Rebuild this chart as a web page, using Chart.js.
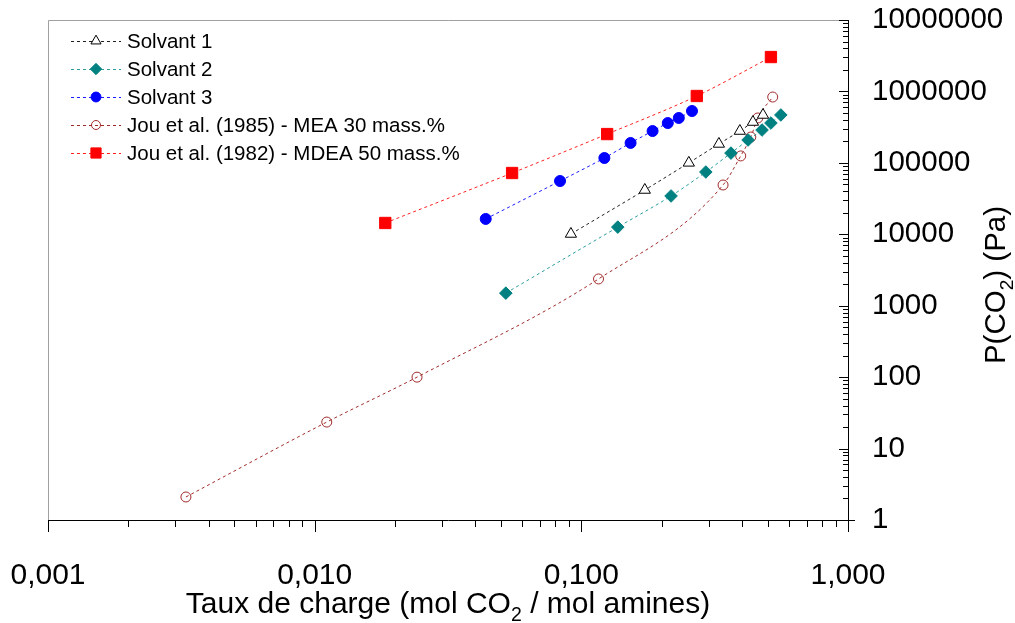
<!DOCTYPE html>
<html>
<head>
<meta charset="utf-8">
<script src="https://cdn.jsdelivr.net/npm/chart.js@4.4.0/dist/chart.umd.min.js"></script>
<style>
  html, body { margin: 0; padding: 0; background: #fff; }
</style>
</head>
<body>
<canvas id="equilibreChart" width="1015" height="623"></canvas>
<script>
const nomsSeries = [
  "Solvant 1",
  "Solvant 2",
  "Solvant 3",
  "Jou et al. (1985) - MEA 30 mass.%",
  "Jou et al. (1982) - MDEA 50 mass.%"
];

const solvant1X = [0.0914, 0.173, 0.253, 0.328, 0.393, 0.440, 0.480];
const solvant1Y = [10100, 41700, 100000, 184000, 279000, 373000, 468000];

const solvant2X = [0.0521, 0.137, 0.217, 0.293, 0.364, 0.422, 0.476, 0.514, 0.560];
const solvant2Y = [1500, 12600, 34400, 74500, 137000, 209000, 288000, 361000, 468000];

const solvant3X = [0.0438, 0.0832, 0.122, 0.153, 0.185, 0.211, 0.232, 0.260];
const solvant3Y = [16400, 55700, 117000, 190000, 279000, 361000, 425000, 532000];

const meaX = [0.00329, 0.0111, 0.0242, 0.116, 0.340, 0.396, 0.432, 0.459, 0.522];
const meaY = [2.1, 23.5, 100, 2370, 49000, 125000, 230000, 425000, 835000];

const mdeaX = [0.0184, 0.0550, 0.125, 0.271, 0.514];
const mdeaY = [14400, 72100, 253000, 863000, 3030000];

const xDecades = [0.001, 0.01, 0.1, 1];
const yDecades = [1, 10, 100, 1000, 10000, 100000, 1000000, 10000000];

const FONT = "'Liberation Sans', Arial, sans-serif";

function toPoints(xs, ys) {
  return xs.map((x, i) => ({ x, y: ys[i] }));
}

function isDecade(v) {
  const l = Math.log10(v);
  return Math.abs(l - Math.round(l)) < 1e-9;
}

// 1..9 x 10^n pour chaque décade
function logTicks(decades) {
  const ticks = [];
  for (let i = 0; i < decades.length; i++) {
    const d = decades[i];
    ticks.push({ value: d });
    if (i === decades.length - 1) break;
    for (let m = 2; m <= 9; m++) ticks.push({ value: m * d });
  }
  return ticks;
}

function drawMarker(ctx, style, x, y, r) {
  ctx.beginPath();
  if (style === "triangle") {
    ctx.moveTo(x, y - r);
    ctx.lineTo(x + r * 0.866, y + r * 0.5);
    ctx.lineTo(x - r * 0.866, y + r * 0.5);
    ctx.closePath();
  } else if (style === "rectRot") {
    ctx.moveTo(x, y - r);
    ctx.lineTo(x + r, y);
    ctx.lineTo(x, y + r);
    ctx.lineTo(x - r, y);
    ctx.closePath();
  } else if (style === "rect") {
    const s = r * Math.SQRT1_2;
    ctx.rect(x - s, y - s, 2 * s, 2 * s);
  } else {
    ctx.arc(x, y, r, 0, Math.PI * 2);
  }
  ctx.fill();
  ctx.stroke();
}

// texte avec un indice "2"
function drawSubText(ctx, parts, size) {
  let total = 0;
  parts.forEach(p => {
    ctx.font = (p.sub ? size * 0.65 : size) + "px " + FONT;
    p.w = ctx.measureText(p.t).width;
    total += p.w;
  });
  let cx = -total / 2;
  parts.forEach(p => {
    ctx.font = (p.sub ? size * 0.65 : size) + "px " + FONT;
    ctx.fillText(p.t, cx, p.sub ? size * 0.28 : 0);
    cx += p.w;
  });
}

const decorPlugin = {
  id: "decor",
  beforeDatasetsDraw(chart) {
    const { ctx, chartArea: a } = chart;
    ctx.save();
    ctx.strokeStyle = "#a0a0a0";
    ctx.lineWidth = 1;
    ctx.beginPath();
    ctx.moveTo(a.left + 0.5, a.bottom);
    ctx.lineTo(a.left + 0.5, a.top + 0.5);
    ctx.lineTo(a.right, a.top + 0.5);
    ctx.stroke();
    ctx.restore();
  },
  afterDraw(chart) {
    const { ctx, chartArea: a } = chart;
    const xs = chart.scales.x, ys = chart.scales.y;
    ctx.save();
    ctx.strokeStyle = "#000";
    ctx.lineWidth = 1;
    ctx.beginPath();
    xs.ticks.forEach(t => {
      const px = Math.round(xs.getPixelForValue(t.value)) + 0.5;
      ctx.moveTo(px, a.bottom);
      ctx.lineTo(px, a.bottom + (isDecade(t.value) ? 12 : 7));
    });
    ys.ticks.forEach(t => {
      const py = Math.round(ys.getPixelForValue(t.value)) + 0.5;
      ctx.moveTo(a.right, py);
      ctx.lineTo(a.right - (isDecade(t.value) ? 9 : 5), py);
    });
    ctx.moveTo(a.right, a.bottom + 0.5);
    ctx.lineTo(a.right + 7, a.bottom + 0.5);
    ctx.stroke();

    // légende
    chart.data.datasets.forEach((ds, i) => {
      const y = 41 + 28 * i;
      ctx.strokeStyle = ds.borderColor;
      ctx.setLineDash([3, 3]);
      ctx.beginPath();
      ctx.moveTo(71, y + 0.5);
      ctx.lineTo(121, y + 0.5);
      ctx.stroke();
      ctx.setLineDash([]);
      ctx.fillStyle = ds.pointBackgroundColor;
      ctx.strokeStyle = ds.pointBorderColor;
      drawMarker(ctx, ds.pointStyle, 96, y, ds.pointRadius * 0.9);
      ctx.fillStyle = "#000";
      ctx.font = "20.5px " + FONT;
      ctx.textAlign = "left";
      ctx.textBaseline = "middle";
      ctx.fillText(ds.label, 127, y + 1);
    });

    // titres des axes
    ctx.fillStyle = "#000";
    ctx.textAlign = "left";
    ctx.textBaseline = "alphabetic";
    ctx.save();
    ctx.translate(448, 613);
    drawSubText(ctx, [{ t: "Taux de charge (mol CO" }, { t: "2", sub: true }, { t: " / mol amines)" }], 30);
    ctx.restore();
    ctx.save();
    ctx.translate(1005, 285);
    ctx.rotate(-Math.PI / 2);
    drawSubText(ctx, [{ t: "P(CO" }, { t: "2", sub: true }, { t: ") (Pa)" }], 29.5);
    ctx.restore();
    ctx.restore();
  }
};

function serie(label, xs, ys, line, style, radius, fill, stroke) {
  return {
    label,
    data: toPoints(xs, ys),
    borderColor: line,
    borderWidth: 1,
    borderDash: [3, 3],
    cubicInterpolationMode: "monotone",
    pointStyle: style,
    pointRadius: radius,
    pointHoverRadius: radius,
    pointBackgroundColor: fill,
    pointBorderColor: stroke,
    pointBorderWidth: 1,
    fill: false
  };
}

const datasets = [
  serie(nomsSeries[0], solvant1X, solvant1Y, "#202020", "triangle", 6.5, "#ffffff", "#000000"),
  serie(nomsSeries[1], solvant2X, solvant2Y, "#2a9d9d", "rectRot", 6.3, "#008080", "#008080"),
  serie(nomsSeries[2], solvant3X, solvant3Y, "#1a1aff", "circle", 5.5, "#0000ff", "#0000ff"),
  serie(nomsSeries[3], meaX, meaY, "#a02a2a", "circle", 5, "rgba(0,0,0,0)", "#a02a2a"),
  serie(nomsSeries[4], mdeaX, mdeaY, "#ff2020", "rect", 8, "#ff0000", "#ff0000")
];

new Chart(document.getElementById("equilibreChart"), {
  type: "line",
  data: { datasets },
  options: {
    responsive: false,
    animation: false,
    layout: { padding: { left: 48, top: 20, right: 0, bottom: 0 } },
    plugins: {
      legend: { display: false },
      tooltip: { enabled: false }
    },
    scales: {
      x: {
        type: "logarithmic",
        position: "bottom",
        min: xDecades[0],
        max: xDecades[xDecades.length - 1],
        afterBuildTicks: s => { s.ticks = logTicks(xDecades); },
        afterFit: s => { s.height = 103; s.paddingLeft = 0; s.paddingRight = 0; },
        grid: { display: false, drawTicks: false },
        border: { display: true, color: "#000", width: 1 },
        ticks: {
          autoSkip: false,
          maxRotation: 0,
          padding: 38,
          color: "#000",
          font: { family: FONT, size: 30 },
          callback: v => isDecade(v) ? v.toFixed(3).replace(".", ",") : ""
        }
      },
      y: {
        type: "logarithmic",
        position: "right",
        min: yDecades[0],
        max: yDecades[yDecades.length - 1],
        afterBuildTicks: s => { s.ticks = logTicks(yDecades); },
        afterFit: s => { s.width = 167; s.paddingTop = 0; s.paddingBottom = 0; },
        grid: { display: false, drawTicks: false },
        border: { display: true, color: "#000", width: 1 },
        ticks: {
          autoSkip: false,
          padding: 24,
          color: "#000",
          font: { family: FONT, size: 29.5 },
          callback: v => isDecade(v) ? String(Math.round(v)) : ""
        }
      }
    }
  },
  plugins: [decorPlugin]
});
</script>
</body>
</html>
